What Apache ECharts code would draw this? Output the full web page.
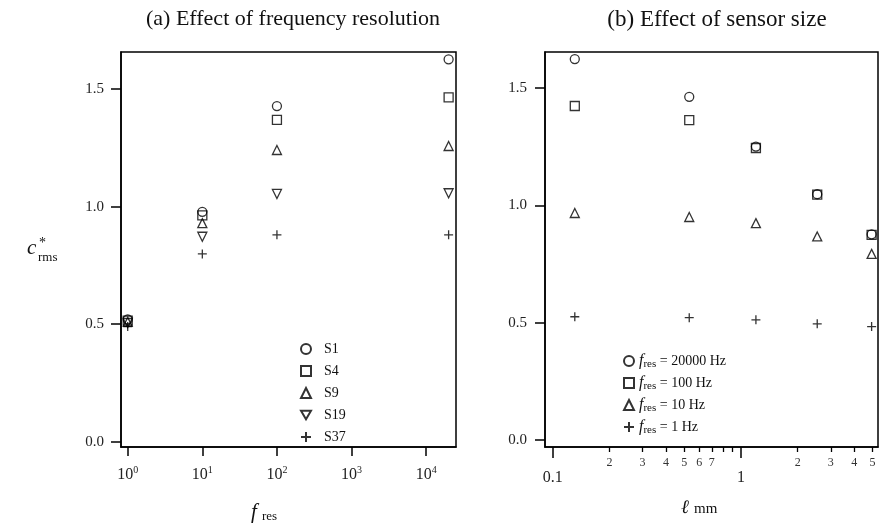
<!DOCTYPE html>
<html>
<head>
<meta charset="utf-8">
<script src="https://cdn.jsdelivr.net/npm/echarts@6/dist/echarts.min.js"></script>
<style>html,body{margin:0;padding:0;background:#fff;}#c{width:879px;height:524px;}</style>
</head>
<body>
<div id="c"></div>
<script>
// ---- Data (panel a) ----
const fresValues = [1, 10, 100, 20000];
const seriesS1 = [0.52, 0.978, 1.428, 1.627];
const seriesS4 = [0.515, 0.963, 1.369, 1.465];
const seriesS9 = [0.51, 0.930, 1.241, 1.258];
const seriesS19 = [0.505, 0.872, 1.054, 1.057];
const seriesS37 = [0.49, 0.799, 0.880, 0.880];
const leftNames = ['S1', 'S4', 'S9', 'S19', 'S37'];
const leftTicks = [1, 10, 100, 1000, 10000];

// ---- Data (panel b) ----
const sensorSize = [0.131, 0.531, 1.20, 2.54, 4.94];
const fres20000 = [1.624, 1.463, 1.251, 1.048, 0.877];
const fres100 = [1.424, 1.364, 1.245, 1.046, 0.875];
const fres10 = [0.968, 0.951, 0.925, 0.868, 0.794];
const fres1 = [0.526, 0.522, 0.513, 0.496, 0.484];
const rightNames = ['20000', '100', '10', '1'];
const rightMajorTicks = [0.1, 1];
const rightMinorTicks = [0.2, 0.3, 0.4, 0.5, 0.6, 0.7, 0.8, 0.9, 2, 3, 4, 5];
const rightMinorLabeled = [0.2, 0.3, 0.4, 0.5, 0.6, 0.7, 2, 3, 4, 5];
const yTicks = [0, 0.5, 1.0, 1.5];

const FONT = 'Liberation Serif';
const symbols = {
  circle: 'circle',
  square: 'rect',
  tri: 'triangle',
  triDown: 'path://M0,0L10,0L5,8.66Z',
  plus: 'path://M5,0L5,10M0,5L10,5'
};
const symList = [symbols.circle, symbols.square, symbols.tri, symbols.triDown, symbols.plus];
const symListR = [symbols.circle, symbols.square, symbols.tri, symbols.plus];

const chart = echarts.init(document.getElementById('c'), null, {renderer: 'canvas'});
const L = Math.log10;

const markerStyle = {color: 'rgba(255,255,255,0)', borderColor: '#000', borderWidth: 1.3};

function mk(name, sym, xs, ys, xi, yi) {
  return {
    name: name, type: 'scatter', xAxisIndex: xi, yAxisIndex: yi,
    symbol: sym, symbolSize: 9,
    itemStyle: markerStyle,
    emphasis: {disabled: true},
    data: xs.map((x, i) => [L(x), ys[i]])
  };
}

const leftData = [seriesS1, seriesS4, seriesS9, seriesS19, seriesS37];
const rightData = [fres20000, fres100, fres10, fres1];
const series = [];
leftNames.forEach((n, i) => series.push(mk(n, symList[i], fresValues, leftData[i], 0, 0)));
rightNames.forEach((n, i) => series.push(mk(n, symListR[i], sensorSize, rightData[i], 1, 1)));

const axisLineStyle = {show: true, onZero: false, lineStyle: {color: '#000', width: 1.5}};

function yAxis(gi, min, max, margin) {
  return {
    type: 'value', gridIndex: gi, min: min, max: max, position: 'left',
    axisLine: axisLineStyle,
    axisTick: {show: true, inside: false, length: 10, lineStyle: {color: '#000', width: 1.5}, customValues: yTicks},
    axisLabel: {customValues: yTicks, margin: margin, color: '#222', fontFamily: FONT, fontSize: 15,
      formatter: v => v.toFixed(1)},
    splitLine: {show: false}
  };
}

const option = {
  animation: false,
  backgroundColor: '#fff',
  title: [
    {text: '(a) Effect of frequency resolution', left: 288, top: 3, textAlign: 'center',
      textStyle: {fontFamily: FONT, fontSize: 22, fontWeight: 'normal', color: '#111'}},
    {text: '(b) Effect of sensor size', left: 712, top: 3, textAlign: 'center',
      textStyle: {fontFamily: FONT, fontSize: 23, fontWeight: 'normal', color: '#111'}}
  ],
  grid: [
    {left: 121, top: 52, width: 335, height: 395, show: true, borderColor: '#000', borderWidth: 1.5, backgroundColor: 'rgba(0,0,0,0)'},
    {left: 545, top: 52, width: 333, height: 395, show: true, borderColor: '#000', borderWidth: 1.5, backgroundColor: 'rgba(0,0,0,0)'}
  ],
  xAxis: [
    {
      type: 'value', gridIndex: 0, min: -0.09, max: 4.40, position: 'bottom',
      axisLine: axisLineStyle,
      axisTick: {show: true, length: 9, lineStyle: {color: '#000', width: 1.5}, customValues: leftTicks.map(L)},
      axisLabel: {customValues: leftTicks.map(L), margin: 18, color: '#222', fontFamily: FONT, fontSize: 16, lineHeight: 20,
        formatter: v => '10{sup|' + Math.round(v) + '}',
        rich: {sup: {fontSize: 10, lineHeight: 10, verticalAlign: 'top', fontFamily: FONT, color: '#222'}}},
      splitLine: {show: false}
    },
    {
      type: 'value', gridIndex: 1, min: -1.041, max: 0.7276, position: 'bottom',
      axisLine: axisLineStyle,
      axisTick: {show: true, length: 11, lineStyle: {color: '#000', width: 1.5}, customValues: rightMajorTicks.map(L)},
      axisLabel: {customValues: rightMajorTicks.map(L), margin: 23, color: '#222', fontFamily: FONT, fontSize: 16,
        formatter: v => (Math.round(Math.pow(10, v) * 10) / 10).toString()},
      splitLine: {show: false}
    },
    {
      type: 'value', gridIndex: 1, min: -1.041, max: 0.7276, position: 'bottom', offset: 0,
      axisLine: {show: false, onZero: false},
      axisTick: {show: true, length: 5, lineStyle: {color: '#000', width: 1.3}, customValues: rightMinorTicks.map(L)},
      axisLabel: {customValues: rightMinorLabeled.map(L), margin: 10, color: '#333', fontFamily: FONT, fontSize: 12,
        formatter: v => {
          const r = Math.pow(10, v);
          return r < 1 ? String(Math.round(r * 10)) : String(Math.round(r));
        }},
      splitLine: {show: false}
    }
  ],
  yAxis: [
    yAxis(0, -0.0225, 1.658, 17),
    yAxis(1, -0.029, 1.654, 18)
  ],
  legend: [
    {
      data: leftNames, orient: 'vertical', left: 295, top: 337, itemWidth: 10, itemHeight: 10, itemGap: 8,
      selectedMode: false,
      textStyle: {fontFamily: FONT, fontSize: 14, color: '#111', lineHeight: 14, padding: [0, 0, 0, 8]}
    },
    {
      data: rightNames, orient: 'vertical', left: 618, top: 348, itemWidth: 10, itemHeight: 10, itemGap: 5,
      selectedMode: false,
      formatter: n => '{i|f}{s|res}{t| = ' + n + ' Hz}',
      textStyle: {fontFamily: FONT, fontSize: 14, color: '#111',
        rich: {
          i: {fontFamily: FONT, fontStyle: 'italic', fontSize: 16, lineHeight: 18, verticalAlign: 'middle', color: '#111'},
          s: {fontFamily: FONT, fontSize: 11, lineHeight: 11, verticalAlign: 'bottom', color: '#111'},
          t: {fontFamily: FONT, fontSize: 14, lineHeight: 18, verticalAlign: 'middle', color: '#111'}
        }}
    }
  ],
  graphic: [
    {type: 'text', left: 27, top: 238, style: {text: 'c', font: 'italic 21px "Liberation Serif"', fill: '#111'}},
    {type: 'text', left: 39, top: 236, style: {text: '*', font: '14px "Liberation Serif"', fill: '#111'}},
    {type: 'text', left: 38, top: 251, style: {text: 'rms', font: '13px "Liberation Serif"', fill: '#111'}},
    {type: 'text', left: 251, top: 502, style: {text: 'f', font: 'italic 21px "Liberation Serif"', fill: '#111'}},
    {type: 'text', left: 262, top: 510, style: {text: 'res', font: '13px "Liberation Serif"', fill: '#111'}},
    {type: 'text', left: 681, top: 498, style: {text: 'ℓ', font: 'italic 19px "Liberation Serif"', fill: '#111'}},
    {type: 'text', left: 694, top: 502, style: {text: 'mm', font: '15px "Liberation Serif"', fill: '#111'}}
  ],
  series: series
};
chart.setOption(option);
</script>
</body>
</html>
